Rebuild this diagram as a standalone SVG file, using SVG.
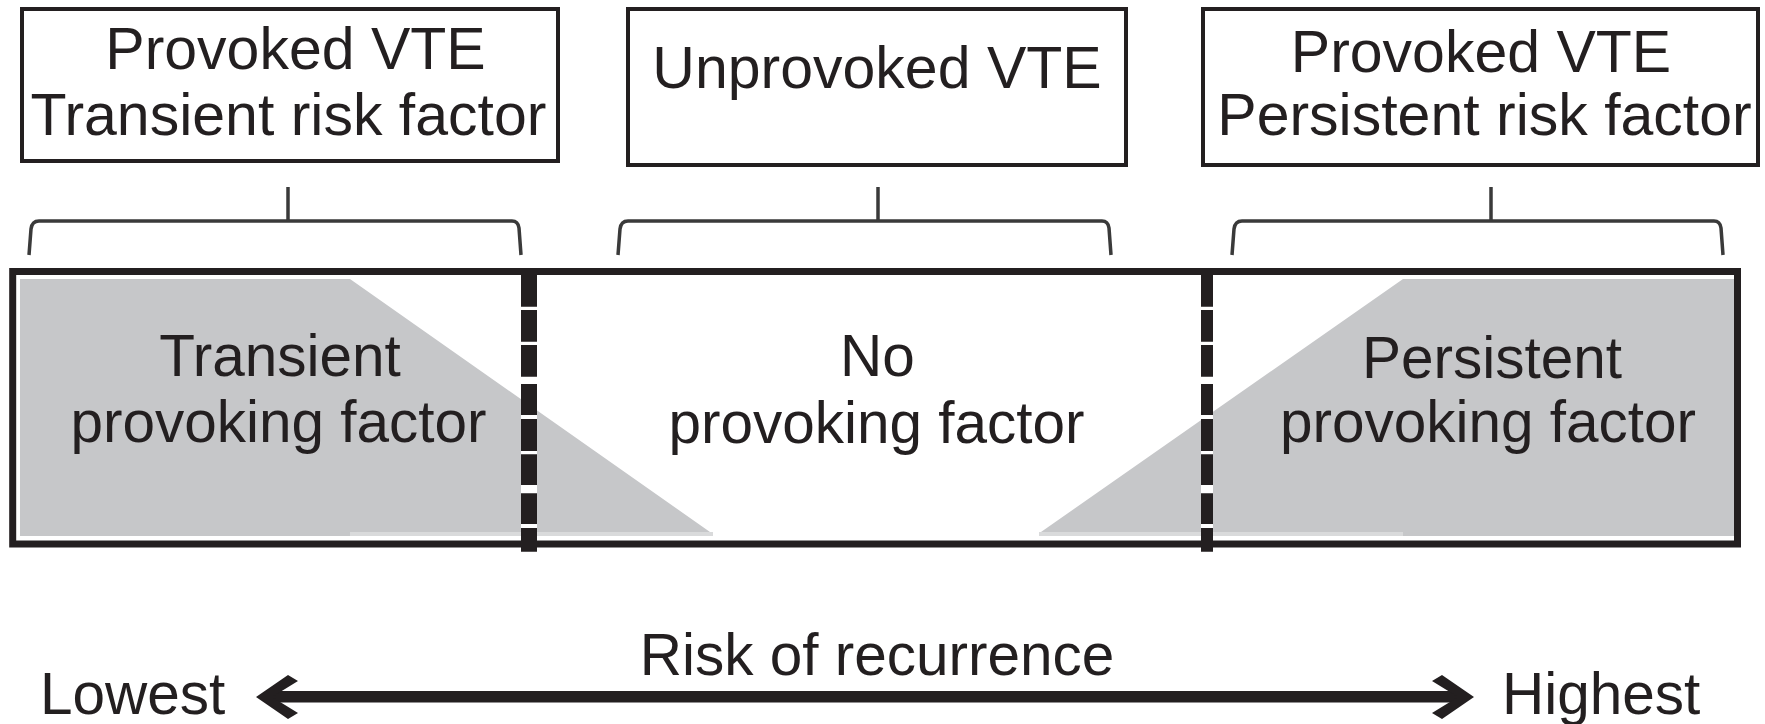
<svg xmlns="http://www.w3.org/2000/svg" width="1765" height="724" viewBox="0 0 1765 724">
  <style>
    .t { font-family: "Liberation Sans", Arial, sans-serif; font-size: 59px; fill: #231f20; text-anchor: middle; }
    .tb { font-family: "Liberation Sans", Arial, sans-serif; font-size: 58.5px; fill: #231f20; text-anchor: middle; }
    .ts { font-family: "Liberation Sans", Arial, sans-serif; font-size: 58.5px; fill: #231f20; }
    .box { fill: #ffffff; stroke: #231f20; stroke-width: 4; }
    .brace { fill: none; stroke: #3a3a3a; stroke-width: 3.5; stroke-linejoin: round; stroke-linecap: butt; }
    .gray { fill: #c6c7c9; }
    .lgray { fill: #d9dadb; }
    .div { fill: none; stroke: #231f20; stroke-dasharray: 31.7 3.3 31.7 3.3 31.7 7.3 31 4 32 3.3 30.7 8.3 30.7 4 23.7; }
    .ink { fill: #231f20; }
  </style>
  <rect width="1765" height="724" fill="#ffffff"/>

  <!-- top category boxes -->
  <g id="box-provoked-transient">
    <rect class="box" x="22" y="9" width="536" height="152"/>
    <text class="t" x="295.5" y="69">Provoked VTE</text>
    <text class="t" x="288.5" y="135">Transient risk factor</text>
  </g>
  <g id="box-unprovoked">
    <rect class="box" x="628" y="9" width="498" height="156"/>
    <text class="t" x="877" y="88">Unprovoked VTE</text>
  </g>
  <g id="box-provoked-persistent">
    <rect class="box" x="1203" y="9" width="555" height="156"/>
    <text class="t" x="1481" y="72">Provoked VTE</text>
    <text class="t" x="1484.5" y="135">Persistent risk factor</text>
  </g>

  <!-- bar with three regions -->
  <g id="bar">
    <g id="region-transient">
      <polygon class="gray" points="20,279 350,279 710,532 350,532 350,536 20,536"/>
      <rect class="lgray" x="350" y="532" width="363" height="4"/>
    </g>
    <g id="region-persistent">
      <polygon class="gray" points="1403,279 1734,279 1734,536 1403,536 1403,532 1041,532"/>
      <rect class="lgray" x="1039" y="532" width="364" height="4"/>
    </g>
    <rect x="521" y="275" width="16" height="266" fill="#ffffff"/>
    <rect x="1201" y="275" width="12" height="266" fill="#ffffff"/>
    <rect x="12.7" y="271.5" width="1724.8" height="272.5" fill="none" stroke="#231f20" stroke-width="7"/>
    <path class="div" d="M529,275 V551.7" stroke-width="16"/>
    <path class="div" d="M1207,275 V551.7" stroke-width="12"/>
    <g id="label-transient">
      <text class="tb" x="280" y="376">Transient</text>
      <text class="tb" x="278.5" y="442">provoking factor</text>
    </g>
    <g id="label-none">
      <text class="tb" x="877.5" y="376">No</text>
      <text class="tb" x="876.5" y="442.5">provoking factor</text>
    </g>
    <g id="label-persistent">
      <text class="tb" x="1492" y="378">Persistent</text>
      <text class="tb" x="1488" y="442">provoking factor</text>
    </g>
  </g>

  <!-- connectors: braces and risk arrow -->
  <g id="connectors">
    <path class="brace" d="M29,255 L31,229 Q32,221 39,221 L512,221 Q518,221 519,228 L521,255"/>
    <path class="brace" d="M288,187 V221"/>
    <path class="brace" d="M618,255 L620,229 Q621,221 628,221 L1102,221 Q1108,221 1109,228 L1111,255"/>
    <path class="brace" d="M878,187 V221"/>
    <path class="brace" d="M1232,255 L1234,229 Q1235,221 1242,221 L1714,221 Q1720,221 1721,228 L1723,255"/>
    <path class="brace" d="M1491,187 V221"/>
    <g id="risk-arrow">
      <rect class="ink" x="268" y="691" width="1194" height="11.5"/>
      <polygon class="ink" points="256,697 288,675 298,681 272,697 298,713 288,719"/>
      <polygon class="ink" points="1474,697 1442,675 1432,681 1458,697 1432,713 1442,719"/>
    </g>
  </g>

  <g id="axis-labels">
    <text class="tb" x="877" y="675">Risk of recurrence</text>
    <text class="ts" x="40" y="714">Lowest</text>
    <text class="ts" x="1502" y="714">Highest</text>
  </g>
</svg>
